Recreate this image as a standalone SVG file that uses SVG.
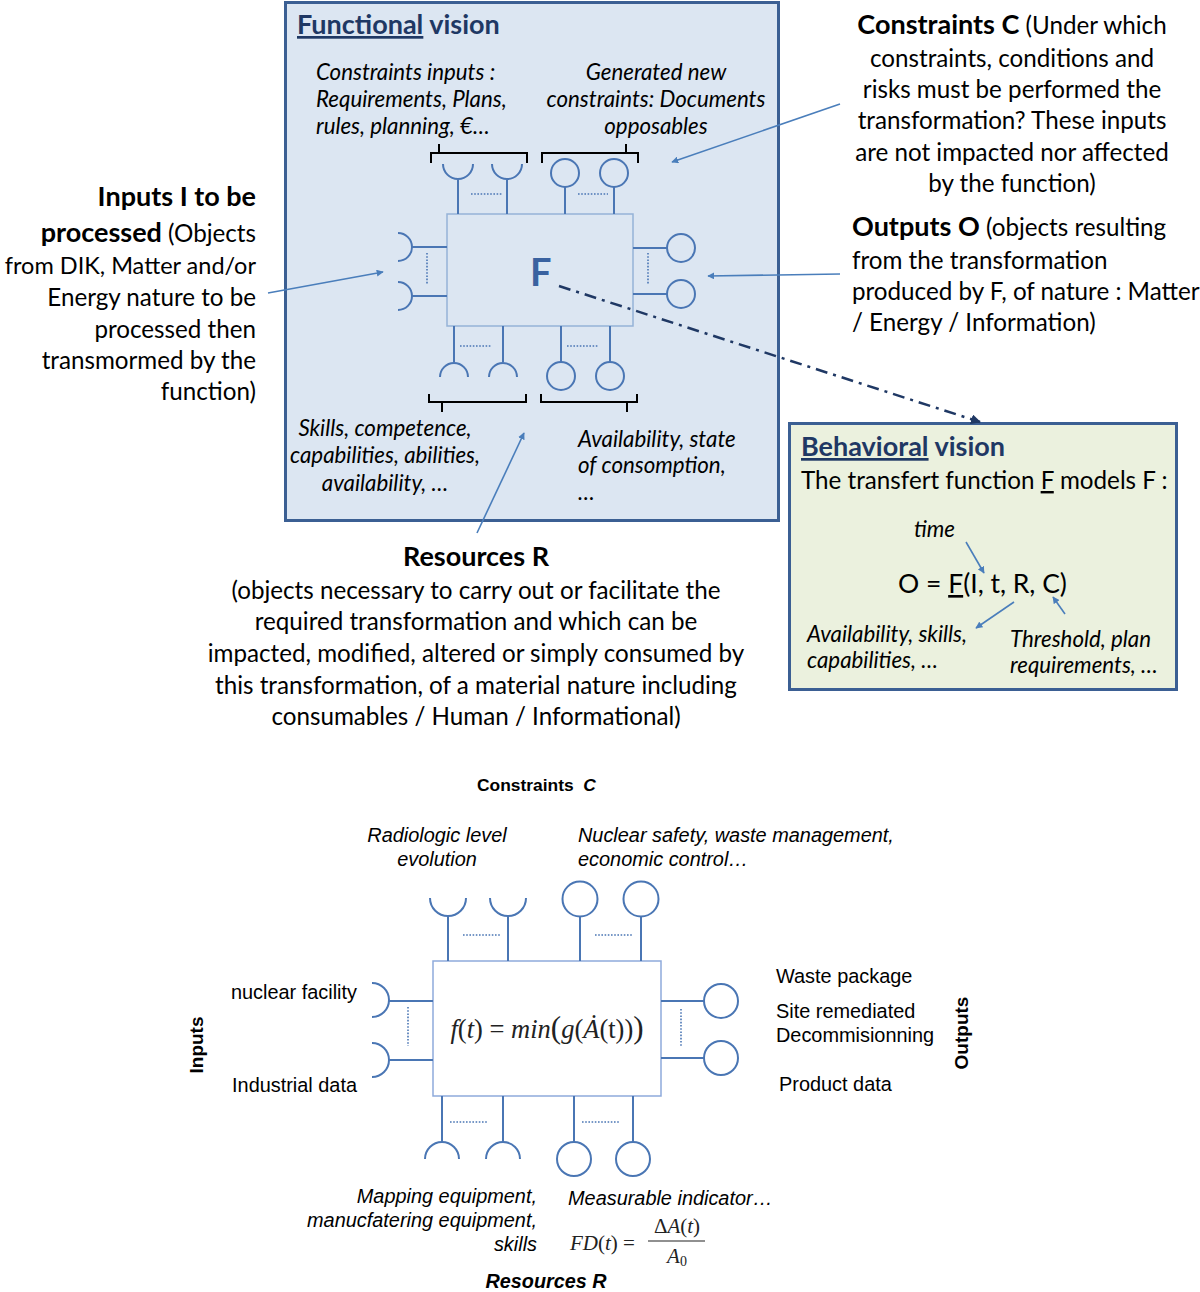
<svg xmlns="http://www.w3.org/2000/svg" width="1200" height="1292" viewBox="0 0 1200 1292">
<defs>
<marker id="ah" viewBox="0 0 10 10" refX="9" refY="5" markerWidth="7" markerHeight="7" orient="auto" markerUnits="userSpaceOnUse">
<path d="M0,0 L10,5 L0,10 z" fill="#4a7ebb"/>
</marker>
<marker id="ahd" viewBox="0 0 10 10" refX="9" refY="5" markerWidth="10" markerHeight="10" orient="auto" markerUnits="userSpaceOnUse">
<path d="M0,0 L10,5 L0,10 z" fill="#1f3864"/>
</marker>
<style>
.cal{font-family:Lato,"Liberation Sans",sans-serif;fill:#000}
.big{font-size:24.2px}
.it{font-size:22.3px;font-style:italic}
.b{font-weight:bold;font-size:27px}
.u{text-decoration:underline}
.ttl{font-family:Lato,"Liberation Sans",sans-serif;font-size:27px;font-weight:bold;fill:#1f3864}
.ar{font-family:"Liberation Sans",Arial,sans-serif;fill:#000}
.ari{font-size:19.9px;font-style:italic}
.arn{font-size:19.9px}
.sym{fill:none;stroke:#4a76b4;stroke-width:2}
.dot{fill:none;stroke:#4a76b4;stroke-width:1.6;stroke-dasharray:1.6 1.6}
.br{fill:none;stroke:#000;stroke-width:2}
.arr{fill:none;stroke:#4a7ebb;stroke-width:1.6;marker-end:url(#ah)}
.math{font-family:"Liberation Serif","DejaVu Serif",serif;fill:#222}
</style>
</defs>

<!-- Functional vision -->
<g id="functional-vision">
<rect x="285.5" y="2.5" width="493" height="518" fill="#dce6f2" stroke="#3b5f93" stroke-width="3"/>
<text class="ttl" x="297" y="34"><tspan class="u">Functional</tspan> vision</text>
<text class="cal it" x="316" y="80">Constraints inputs :</text>
<text class="cal it" x="316" y="107">Requirements, Plans,</text>
<text class="cal it" x="316" y="134">rules, planning, €…</text>
<text class="cal it" x="656" y="80" text-anchor="middle">Generated new</text>
<text class="cal it" x="656" y="107" text-anchor="middle">constraints: Documents</text>
<text class="cal it" x="656" y="134" text-anchor="middle">opposables</text>
<path class="br" d="M431,163 V153 H527 V163 M439,153 V144 M542,163 V153 H638 V163 M626,153 V144"/>
<path class="br" d="M429,394 V402 H526 V394 M442,402 V412 M541,394 V402 H637 V394 M627,402 V412"/>
<text class="cal it" x="385" y="436" text-anchor="middle">Skills, competence,</text>
<text class="cal it" x="385" y="463" text-anchor="middle">capabilities, abilities,</text>
<text class="cal it" x="385" y="491" text-anchor="middle">availability, …</text>
<text class="cal it" x="578" y="447">Availability, state</text>
<text class="cal it" x="578" y="473">of consomption,</text>
<text class="cal it" x="578" y="500">…</text>
</g>

<g id="function-F">
<rect x="447" y="214" width="186" height="112" fill="#dce6f2" stroke="#95b3d7" stroke-width="1.5"/>
<text x="530" y="286" font-family="Lato,'Liberation Sans',sans-serif" font-size="38" font-weight="bold" fill="#3a62a0">F</text>
<path class="sym" d="M443,164 A15,15 0 0 0 473,164 M458,179 V214 M492,164 A15,15 0 0 0 522,164 M507,179 V214"/>
<path class="sym" d="M565,187 V214 M614,187 V214"/>
<circle class="sym" cx="565" cy="173" r="14"/>
<circle class="sym" cx="614" cy="173" r="14"/>
<path class="dot" d="M471,194 H502 M578,194 H608"/>
<path class="sym" d="M398,233 A14,14 0 0 1 398,261 M412,247 H447 M398,282 A14,14 0 0 1 398,310 M412,296 H447"/>
<path class="dot" d="M427,253 V284"/>
<path class="sym" d="M633,248 H667 M633,294 H667"/>
<circle class="sym" cx="681" cy="248" r="14"/>
<circle class="sym" cx="681" cy="294" r="14"/>
<path class="dot" d="M648,253 V284"/>
<path class="sym" d="M454,326 V362 M503,326 V362 M561,326 V362 M610,326 V362"/>
<path class="sym" d="M440,377 A14,14 0 0 1 468,377 M489,377 A14,14 0 0 1 517,377"/>
<circle class="sym" cx="561" cy="376" r="14"/>
<circle class="sym" cx="610" cy="376" r="14"/>
<path class="dot" d="M460,346 H492 M567,346 H598"/>
</g>

<!-- Annotations -->
<g id="constraints-C">
<text class="cal big" x="1012" y="34" text-anchor="middle"><tspan class="b">Constraints C</tspan> (Under which</text>
<text class="cal big" x="1012" y="67" text-anchor="middle">constraints, conditions and</text>
<text class="cal big" x="1012" y="98" text-anchor="middle">risks must be performed the</text>
<text class="cal big" x="1012" y="129" text-anchor="middle">transformation? These inputs</text>
<text class="cal big" x="1012" y="161" text-anchor="middle">are not impacted nor affected</text>
<text class="cal big" x="1012" y="192" text-anchor="middle">by the function)</text>
</g>
<g id="outputs-O">
<text class="cal big" x="852" y="236"><tspan class="b">Outputs O</tspan> (objects resulting</text>
<text class="cal big" x="852" y="269">from the transformation</text>
<text class="cal big" x="852" y="300" font-size="24">produced by F, of nature : Matter</text>
<text class="cal big" x="852" y="331">/ Energy / Information)</text>
</g>
<g id="inputs-I">
<text class="cal b" x="256" y="206" text-anchor="end">Inputs I to be</text>
<text class="cal big" x="256" y="242" text-anchor="end"><tspan class="b">processed</tspan> (Objects</text>
<text class="cal" x="256" y="274" text-anchor="end" font-size="23.5">from DIK, Matter and/or</text>
<text class="cal big" x="256" y="306" text-anchor="end">Energy nature to be</text>
<text class="cal big" x="256" y="338" text-anchor="end">processed then</text>
<text class="cal big" x="256" y="369" text-anchor="end">transmormed by the</text>
<text class="cal big" x="256" y="400" text-anchor="end">function)</text>
</g>
<g id="resources-R">
<text class="cal b" x="476" y="566" text-anchor="middle">Resources R</text>
<text class="cal big" x="476" y="599" text-anchor="middle">(objects necessary to carry out or facilitate the</text>
<text class="cal big" x="476" y="630" text-anchor="middle">required transformation and which can be</text>
<text class="cal big" x="476" y="662" text-anchor="middle">impacted, modified, altered or simply consumed by</text>
<text class="cal big" x="476" y="694" text-anchor="middle">this transformation, of a material nature including</text>
<text class="cal big" x="476" y="725" text-anchor="middle">consumables / Human / Informational)</text>
</g>

<!-- Behavioral vision -->
<g id="behavioral-vision">
<rect x="789.5" y="423.5" width="387" height="266" fill="#ebf1de" stroke="#3b5f93" stroke-width="3"/>
<text class="ttl" x="801" y="456"><tspan class="u">Behavioral</tspan> vision</text>
<text class="cal big" x="801" y="489">The transfert function <tspan class="u">F</tspan> models F :</text>
<text class="cal it" x="914" y="537">time</text>
<text class="cal" x="898" y="593" font-size="26.5">O = <tspan class="u">F</tspan>(I, t, R, C)</text>
<text class="cal it" x="807" y="642">Availability, skills,</text>
<text class="cal it" x="807" y="668">capabilities, …</text>
<text class="cal it" x="1010" y="647">Threshold, plan</text>
<text class="cal it" x="1010" y="673">requirements, …</text>
</g>

<!-- Bottom diagram -->
<g id="bottom-function">
<rect x="433" y="961" width="228" height="135" fill="#fff" stroke="#8eaadb" stroke-width="1.5"/>
<text class="math" x="547" y="1038" text-anchor="middle" font-size="26.5"><tspan font-style="italic">f</tspan>(<tspan font-style="italic">t</tspan>) = <tspan font-style="italic">min</tspan><tspan font-size="31">(</tspan><tspan font-style="italic">g</tspan>(<tspan font-style="italic">Ȧ</tspan>(t))<tspan font-size="31">)</tspan></text>
<path class="sym" d="M430,898 A18,18 0 0 0 466,898 M448,916 V961 M490,898 A18,18 0 0 0 526,898 M508,916 V961"/>
<path class="sym" d="M580,916.5 V961 M641,916.5 V961"/>
<circle class="sym" cx="580" cy="899" r="17.5"/>
<circle class="sym" cx="641" cy="899" r="17.5"/>
<path class="dot" d="M463,935 H501 M595,935 H633"/>
<path class="sym" d="M372,983 A17,17 0 0 1 372,1017 M389,1001 H433 M372,1043 A17,17 0 0 1 372,1077 M389,1060 H433"/>
<path class="dot" d="M408,1007 V1046"/>
<path class="sym" d="M661,1001 H704 M661,1058 H704"/>
<circle class="sym" cx="721" cy="1001" r="17"/>
<circle class="sym" cx="721" cy="1058" r="17"/>
<path class="dot" d="M681,1009 V1047"/>
<path class="sym" d="M442,1096 V1142 M503,1096 V1142 M574,1096 V1142 M633,1096 V1142"/>
<path class="sym" d="M425,1159 A17,17 0 0 1 459,1159 M486,1159 A17,17 0 0 1 520,1159"/>
<circle class="sym" cx="574" cy="1159" r="17"/>
<circle class="sym" cx="633" cy="1159" r="17"/>
<path class="dot" d="M450,1122 H487 M582,1122 H619"/>
</g>
<g id="bottom-constraints">
<text class="ar" x="477" y="791" font-size="17.4" font-weight="bold" xml:space="preserve">Constraints  <tspan font-style="italic">C</tspan></text>
<text class="ar ari" x="437" y="842" text-anchor="middle">Radiologic level</text>
<text class="ar ari" x="437" y="866" text-anchor="middle">evolution</text>
<text class="ar ari" x="578" y="842">Nuclear safety, waste management,</text>
<text class="ar ari" x="578" y="866">economic control…</text>
</g>
<g id="bottom-inputs">
<text class="ar" x="0" y="0" font-size="19" font-weight="bold" text-anchor="middle" transform="translate(203,1045) rotate(-90)">Inputs</text>
<text class="ar arn" x="357" y="999" text-anchor="end">nuclear facility</text>
<text class="ar arn" x="357" y="1092" text-anchor="end">Industrial data</text>
</g>
<g id="bottom-outputs">
<text class="ar" x="0" y="0" font-size="19" font-weight="bold" text-anchor="middle" transform="translate(968,1033) rotate(-90)">Outputs</text>
<text class="ar arn" x="776" y="983">Waste package</text>
<text class="ar arn" x="776" y="1018">Site remediated</text>
<text class="ar arn" x="776" y="1042">Decommisionning</text>
<text class="ar arn" x="779" y="1091">Product data</text>
</g>
<g id="bottom-resources">
<text class="ar ari" x="537" y="1203" text-anchor="end">Mapping equipment,</text>
<text class="ar ari" x="537" y="1227" text-anchor="end">manucfatering equipment,</text>
<text class="ar ari" x="537" y="1251" text-anchor="end">skills</text>
<text class="ar ari" x="568" y="1205">Measurable indicator…</text>
<text class="math" x="570" y="1250" font-size="21"><tspan font-style="italic">FD</tspan>(<tspan font-style="italic">t</tspan>) =</text>
<text class="math" x="677" y="1233" font-size="21" text-anchor="middle">Δ<tspan font-style="italic">A</tspan>(<tspan font-style="italic">t</tspan>)</text>
<line x1="648" y1="1241" x2="705" y2="1241" stroke="#222" stroke-width="1.2"/>
<text class="math" x="677" y="1263" font-size="21" text-anchor="middle"><tspan font-style="italic">A</tspan><tspan font-size="14" dy="3">0</tspan></text>
<text class="ar" x="546" y="1288" font-size="19.8" font-weight="bold" font-style="italic" text-anchor="middle">Resources R</text>
</g>

<!-- Connectors -->
<g id="connectors">
<line class="arr" x1="840" y1="104" x2="672" y2="162"/>
<line class="arr" x1="268" y1="293" x2="383" y2="272"/>
<line class="arr" x1="840" y1="274" x2="708" y2="276"/>
<line class="arr" x1="477" y1="533" x2="524" y2="433"/>
<line x1="559" y1="286" x2="980" y2="422" stroke="#1f3864" stroke-width="2.5" stroke-dasharray="12 6 3 6" marker-end="url(#ahd)"/>
<line class="arr" x1="966" y1="542" x2="984" y2="573"/>
<line class="arr" x1="1014" y1="602" x2="976" y2="628"/>
<line class="arr" x1="1065" y1="614" x2="1053" y2="597"/>
</g>
</svg>
